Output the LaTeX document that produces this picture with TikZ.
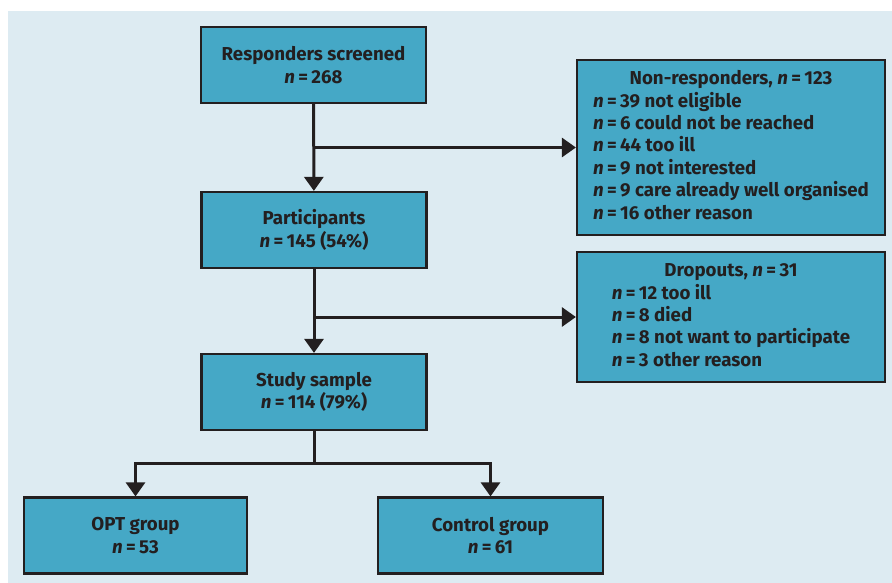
\documentclass[tikz,border=0pt]{standalone}
\usepackage{fontspec}
\setmainfont{Fira Sans}
\usetikzlibrary{arrows.meta}
\definecolor{bgblue}{RGB}{221,235,242}
\definecolor{boxblue}{RGB}{69,168,198}
\definecolor{ink}{RGB}{35,31,32}
\newcommand{\nn}{\textit{n}\hspace{0.18em}=\hspace{0.18em}}

\begin{document}
\begin{tikzpicture}[x=1pt,y=-1pt,
    b/.style={draw=ink,fill=boxblue,line width=2.2pt,text=ink,
      font=\bfseries\fontsize{18.7}{22.4}\selectfont},
    mainbox/.style={b,align=center,minimum width=225pt,minimum height=76pt},
    sidebox/.style={b,minimum width=308pt},
    conn/.style={draw=ink,line width=3pt,-{Triangle[width=19pt,length=14pt]}},]
  \useasboundingbox (0,0) rectangle (892,583);
  \fill[bgblue] (8,11) rectangle (892,583);
  \node[mainbox] (resp) at (313.5,65) {Responders screened\\\nn 268};
  \node[mainbox] (part) at (314,230) {Participants\\\nn 145 (54\%)};
  \node[mainbox] (study) at (314,392) {Study sample\\\nn 114 (79\%)};
  \node[mainbox, minimum width=223pt] (opt) at (135.5,535.5) {OPT group\\\nn 53};
  \node[mainbox] (ctrl) at (490.5,535.5) {Control group\\\nn 61};
  \node[sidebox, minimum height=175pt] (nonresp) at (731,147.5) {%
    \begin{tabular}{@{}l@{}}
      \multicolumn{1}{c}{Non-responders, \nn 123}\\
      \nn 39 not eligible\\
      \nn 6 could not be reached\\
      \nn 44 too ill\\
      \nn 9 not interested\\
      \nn 9 care already well organised\\
      \nn 16 other reason
    \end{tabular}};
  \node[sidebox, minimum height=130pt] (drop) at (731,317) {%
    \begin{tabular}{@{}l@{}}
      \multicolumn{1}{c}{Dropouts, \nn 31}\\
      \nn 12 too ill\\
      \nn 8 died\\
      \nn 8 not want to participate\\
      \nn 3 other reason
    \end{tabular}};
  % connectors
  \coordinate (j1) at (resp.south |- nonresp.west);
  \coordinate (j2) at (part.south |- drop.west);
  \path (study.south) ++(0,32.5) coordinate (j3);
  \draw[conn] (resp) -- (part);
  \draw[conn] (j1) -- (nonresp);
  \draw[conn] (part) -- (study);
  \draw[conn] (j2) -- (drop);
  \draw[draw=ink,line width=3pt] (study) -- (j3);
  \draw[conn] (j3) -| (opt);
  \draw[conn] (j3) -| (ctrl);
\end{tikzpicture}
\end{document}
